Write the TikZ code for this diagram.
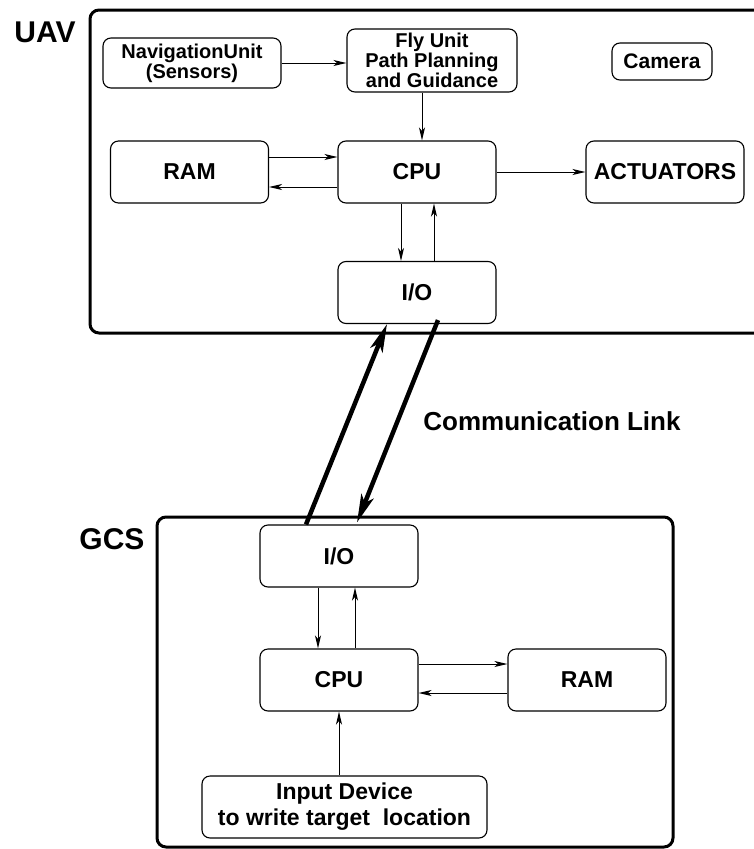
\documentclass[tikz,border=0pt]{standalone}
\usepackage{fontspec}
\setmainfont{Liberation Sans}
\usetikzlibrary{arrows.meta}

\tikzset{
  unit/.style={draw, rounded corners=8pt, line width=1.1pt, align=center, inner sep=0pt,
    minimum width=158pt, minimum height=62pt, font=\fontsize{23}{26}\selectfont\bfseries},
  small/.style={font=\fontsize{20}{17}\selectfont\bfseries},
  frame/.style={draw, rounded corners=9pt, line width=3pt},
  title/.style={font=\fontsize{30}{30}\selectfont\bfseries},
  link/.style={line width=1pt, -{Stealth[length=13pt,width=6pt,inset=3.5pt]}},
  radio/.style={line width=4.5pt, -{Stealth[length=28pt,width=13pt,inset=7pt]}},
}

\begin{document}
\begin{tikzpicture}[x=1pt, y=-1pt]
      \clip (0,0) rectangle (754,849);

      % frames
      \draw[frame] (90,10) rectangle (775,333);
      \draw[frame] (157,517) rectangle (673,847);
      \node[title] (uav) at (45,32) {UAV};
      \node[title] (gcs) at (112,539) {GCS};

      % UAV
      \node[unit, small, minimum width=178pt, minimum height=50pt] (nav) at (192,63) {NavigationUnit\\(Sensors)};
      \node[unit, small, minimum width=170pt, minimum height=63pt] (fly) at (432,60.5) {Fly Unit\\Path Planning\\and Guidance};
      \node[unit, font=\fontsize{21}{24}\selectfont\bfseries, minimum width=100pt, minimum height=37pt] (cam) at (662,61.5) {Camera};
      \node[unit] (ram1) at (189.5,172) {RAM};
      \node[unit] (cpu1) at (417,172) {CPU};
      \node[unit] (act) at (665,172) {ACTUATORS};
      \node[unit] (io1) at (417,292.5) {I/O};

      \draw[link] (nav.east) -- (nav.east -| fly.west);
      \draw[link] ([xshift=-10pt]fly.south) -- ([xshift=-10pt]fly.south |- cpu1.north);
      \draw[link] ([yshift=15pt]ram1.east) -- ([yshift=15pt]cpu1.west);
      \draw[link] ([yshift=-15pt]cpu1.west) -- ([yshift=-15pt]ram1.east);
      \draw[link] (cpu1.east) -- (act.west);
      \draw[link] ([xshift=-16pt]cpu1.south) -- ([xshift=-16pt]io1.north);
      \draw[link] ([xshift=17pt]io1.north) -- ([xshift=17pt]cpu1.south);

      % GCS
      \node[unit] (io2) at (339,556) {I/O};
      \node[unit] (cpu2) at (339,680) {CPU};
      \node[unit] (ram2) at (587,680) {RAM};
      \node[unit, minimum width=285pt] (inp) at (344.5,807) {Input Device\\to write target\ \ location};

      \draw[link] ([xshift=-21pt]io2.south) -- ([xshift=-21pt]cpu2.north);
      \draw[link] ([xshift=16pt]cpu2.north) -- ([xshift=16pt]io2.south);
      \draw[link] ([yshift=16pt]cpu2.east) -- ([yshift=16pt]ram2.west);
      \draw[link] ([yshift=-13pt]ram2.west) -- ([yshift=-13pt]cpu2.east);
      \draw[link] (cpu2.south |- inp.north) -- (cpu2.south);

      % link
      \draw[radio] ([xshift=-33pt]io2.north) -- ([xshift=-30pt]io1.south);
      \draw[radio] ([xshift=21pt,yshift=4pt]io1.south) -- ([xshift=18pt,yshift=2pt]io2.north);
      \node[font=\fontsize{26}{26}\selectfont\bfseries] (comm) at (552,421) {Communication Link};
\end{tikzpicture}
\end{document}
